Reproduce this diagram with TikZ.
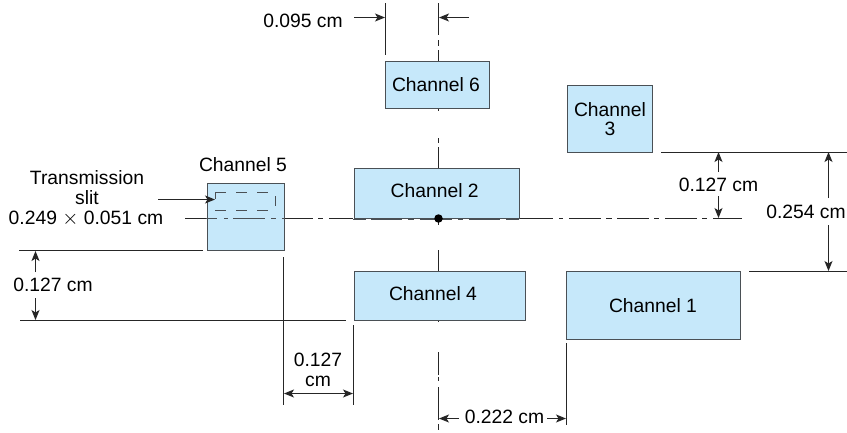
\documentclass[tikz,border=0pt]{standalone}
\usepackage{fontspec}
\setmainfont{Liberation Sans}
\usetikzlibrary{arrows.meta}
\definecolor{chfill}{HTML}{C6E8FA}
\definecolor{chedge}{HTML}{4A5055}
\tikzset{
  x=1pt,y=-1pt,
  chan/.style={draw=chedge,fill=chfill,line width=1.3pt,anchor=north west,inner sep=0pt},
  lbl/.style={inner sep=0pt,align=center,font=\fontsize{19.3}{19}\selectfont},
  ln/.style={line width=1pt,draw=black!85},
  dimarrow/.style={ln,-{Stealth[length=10pt,width=8pt,inset=2.5pt]}},
  twoarrow/.style={ln,{Stealth[length=10pt,width=8pt,inset=2.5pt]}-{Stealth[length=10pt,width=8pt,inset=2.5pt]}},
  dot/.style={circle,fill=black,inner sep=0pt,minimum size=8.5pt}
}
\newcommand{\chbox}[5]{\node[chan,minimum width=#3 pt,minimum height=#4 pt] (#5) at (#1,#2) {};}
\begin{document}
\begin{tikzpicture}
\useasboundingbox (0,0) rectangle (847,432);
\fill[white] (0,0) rectangle (847,432);
% horizontal centre line behind boxes
\foreach \a/\b in {185/217,224/228,233/265,271/276,282/313,318/323,329/353,519/553,559/563,569/601,606/612,617/649,654/659,665/697,702/707,713/742}
  \draw[ln] (\a,218.5) -- (\b,218.5);
% vertical centre line
\foreach \a/\b in {3/35,40/46,50/61,108/111,138/143,147/168,218/225,250/271,320/322,352/375,377/381,387/420,424/430}
  \draw[ln] (438.5,\a) -- (438.5,\b);
% boxes
\chbox{385}{61}{104}{47}{c6}
\chbox{567}{85}{85}{67}{c3}
\chbox{353.5}{168}{165.5}{50}{c2}
\chbox{206.5}{183}{77}{67}{c5}
\chbox{353.5}{271}{171}{49}{c4}
\chbox{566}{271}{174}{68}{c1}
% box texts
\node[lbl] (l6) at (436,85) {Channel 6};
\node[lbl] (l3) at (610,119) {Channel\\3};
\node[lbl] (l2) at (434.7,191) {Channel 2};
\node[lbl] (l4) at (433,294) {Channel 4};
\node[lbl] (l1) at (653,306) {Channel 1};
% line over channel 5 and channel 2
\foreach \a/\b in {206/217,224/228,233/265,271/276,282/284}
  \draw[ln,draw=chedge] (\a,218.5) -- (\b,218.5);
\foreach \a/\b in {353/366,371/402,408/414,420/452,458/463,469/500,506/519}
  \draw[ln,draw=chedge] (\a,219) -- (\b,219);
\node[dot] (origin) at (438.5,218.5) {};
% slit
\draw[ln,draw=chedge] (215.5,199) -- (215.5,192.5) -- (226,192.5) (236,192.5) -- (247,192.5) (257,192.5) -- (268,192.5);
\draw[ln,draw=chedge] (275.5,196) -- (275.5,206);
\draw[ln,draw=chedge] (215,210.5) -- (226,210.5) (236,210.5) -- (247,210.5) (257,210.5) -- (268,210.5);
% extension lines
\draw[ln] (19,250.5) -- (203,250.5);
\draw[ln] (20,320.5) -- (346,320.5);
\draw[ln] (283.5,257) -- (283.5,405);
\draw[ln] (353.5,325) -- (353.5,405);
\draw[ln] (385.5,3) -- (385.5,55);
\draw[ln] (566.5,343) -- (566.5,425);
\draw[ln] (661,152.5) -- (847,152.5);
\draw[ln] (749,271.5) -- (847,271.5);
% dimension arrows
\draw[dimarrow] (354,17.5) -- (385,17.5);
\draw[dimarrow] (469,17.5) -- (439,17.5);
\draw[dimarrow] (35.5,272) -- (35.5,251);
\draw[dimarrow] (35.5,298) -- (35.5,320);
\draw[twoarrow] (284,393.5) -- (353,393.5);
\draw[dimarrow] (459,418.5) -- (439,418.5);
\draw[dimarrow] (547,418.5) -- (566,418.5);
\draw[dimarrow] (718.5,172) -- (718.5,152);
\draw[dimarrow] (718.5,196) -- (718.5,218);
\draw[dimarrow] (828.5,198) -- (828.5,152);
\draw[dimarrow] (828.5,225) -- (828.5,271);
\draw[dimarrow] (158,199.5) -- (215,199.5);
% labels
\node[lbl] (t1) at (303,21) {0.095 cm};
\node[lbl] (t2) at (243,165) {Channel 5};
\node[lbl] (t3) at (87,177.5) {Transmission};
\node[lbl] (t4) at (87,197.5) {slit};
\node[lbl] (t5) at (86,218.5) {0.249 $\times$ 0.051 cm};
\node[lbl] (t6) at (53,285) {0.127 cm};
\node[lbl] (t7) at (318,360) {0.127};
\node[lbl] (t8) at (318,381) {cm};
\node[lbl] (t9) at (504.5,417) {0.222 cm};
\node[lbl] (t10) at (718.5,185) {0.127 cm};
\node[lbl] (t11) at (806,211.5) {0.254 cm};
\end{tikzpicture}
\end{document}
